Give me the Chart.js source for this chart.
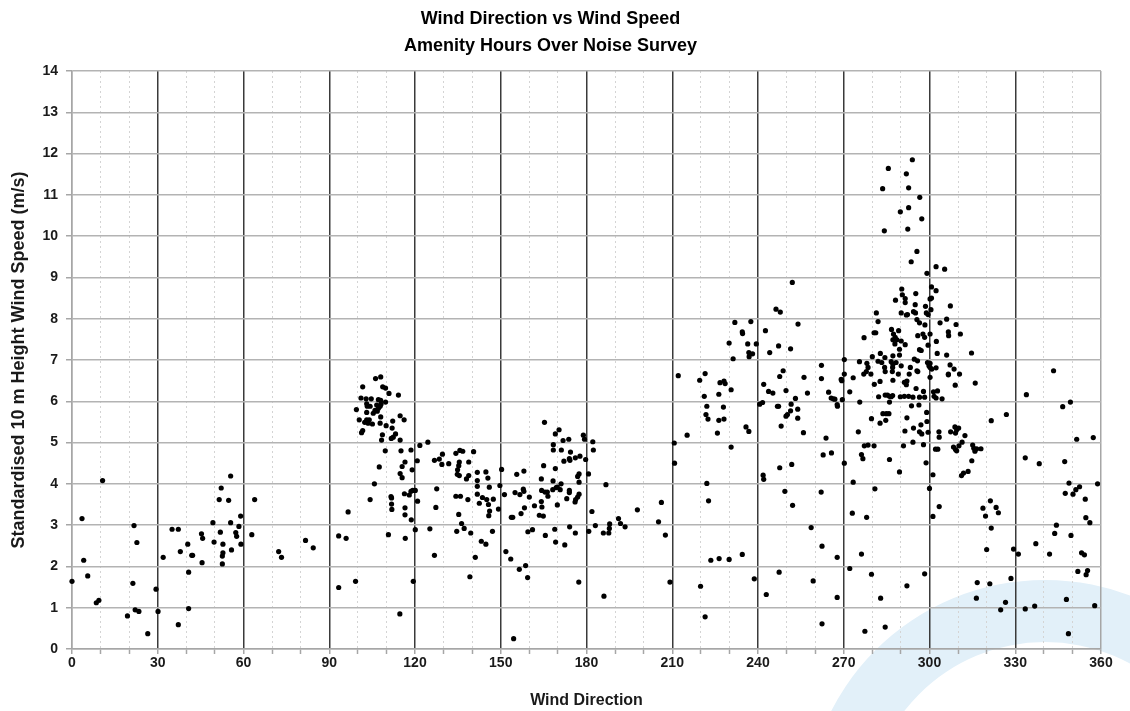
<!DOCTYPE html>
<html>
<head>
<meta charset="utf-8">
<script src="https://cdn.jsdelivr.net/npm/chart.js@4"></script>
<style>html,body{margin:0;padding:0;background:#fff;}canvas{display:block;}</style>
</head>
<body>
<canvas id="c" width="1130" height="711"></canvas>
<script>
const chartTitle = ['Wind Direction vs Wind Speed', 'Amenity Hours Over Noise Survey'];
const xAxisTitle = 'Wind Direction';
const yAxisTitle = 'Standardised 10 m Height Wind Speed (m/s)';
const xTickLabels = [0, 30, 60, 90, 120, 150, 180, 210, 240, 270, 300, 330, 360];
const yTickLabels = [0, 1, 2, 3, 4, 5, 6, 7, 8, 9, 10, 11, 12, 13, 14];

// Sector 0-90 degrees
const dirSector1 = [0,3.5,4.1,5.5,8.5,9.4,10.7,19.4,21.3,21.7,
  22.1,22.7,23.4,26.5,29.4,30.1,31.9,35.0,37.2,37.2,
  37.9,40.5,40.8,40.8,41.9,42.2,45.3,45.7,45.5,49.3,
  49.7,51.5,51.9,52.2,52.8,52.8,52.6,52.6,54.8,55.5,
  55.5,55.8,57.3,57.6,58.4,59.0,59.1,62.9,63.9,72.3,
  73.3,81.7,84.4];
const spdSector1 = [1.64,3.16,2.15,1.77,1.12,1.18,4.08,0.80,1.59,2.99,
  0.95,2.58,0.91,0.37,1.45,0.91,2.22,2.90,2.90,0.59,
  2.36,2.54,1.86,0.98,2.27,2.27,2.79,2.68,2.09,3.06,
  2.59,3.62,2.83,3.90,2.54,2.33,2.25,2.06,3.60,4.19,
  3.06,2.40,2.82,2.73,2.97,3.22,2.54,2.77,3.62,2.36,
  2.22,2.63,2.45];

// Sector 90-185 degrees
const dirSector2 = [106.2,108.0,101.7,108.7,109.7,110.9,114.2,101.1,102.9,104.7,
  107.2,108.0,109.7,99.5,103.1,103.3,104.3,106.6,107.2,107.8,
  108.1,106.0,106.8,103.1,105.4,108.0,114.8,116.2,100.5,102.4,
  103.1,104.0,103.6,105.1,107.8,109.9,112.2,101.7,101.3,112.0,
  108.6,113.2,112.4,111.7,108.3,114.8,124.5,121.7,109.6,115.1,
  118.6,116.5,120.8,126.8,128.5,107.5,115.5,119.0,114.8,115.5,
  105.8,116.3,118.6,118.0,119.2,120.1,111.6,111.8,104.3,120.9,
  111.8,116.5,111.9,116.5,118.7,96.6,125.2,120.1,93.3,95.9,
  110.7,116.6,127.6,127.3,93.3,99.2,114.7,119.4,126.8,141.1,
  139.2,151.8,153.5,154.5,156.5,158.7,159.4,177.3,129.6,129.4,
  131.8,134.3,135.7,136.7,135.5,135.3,134.9,134.8,135.5,138.8,
  140.5,138.8,138.0,134.3,135.9,138.5,135.3,136.3,137.2,134.6,
  139.5,141.8,144.8,141.8,145.5,141.8,146.0,141.8,143.6,142.5,
  145.1,145.7,147.4,146.1,145.8,149.2,147.1,143.2,144.8,150.3,
  149.7,151.3,153.7,154.2,155.6,158.1,155.0,156.7,157.9,158.1,
  157.1,158.3,160.0,159.5,161.1,161.8,163.5,164.9,164.4,164.2,
  164.3,164.2,165.3,165.0,165.5,166.3,166.5,168.4,168.4,169.1,
  170.4,171.2,169.1,168.3,168.2,169.4,169.8,170.8,171.1,169.8,
  165.6,168.9,169.2,172.4,171.8,173.8,174.4,172.1,174.0,174.2,
  176.1,177.7,173.1,174.0,174.0,176.2,176.0,176.9,177.4,176.9,
  177.4,177.4,174.1,176.1,178.9,179.3,179.7,180.7,182.2,182.4,
  181.9,183.1,180.8];
const spdSector2 = [6.55,6.59,6.35,6.35,6.32,6.19,6.15,6.08,6.06,6.06,
  6.04,6.02,5.98,5.80,5.94,5.88,5.88,5.91,5.83,5.88,
  5.93,5.78,5.76,5.73,5.71,5.62,5.65,5.55,5.55,5.49,
  5.55,5.55,5.47,5.45,5.47,5.41,5.52,5.29,5.24,5.35,
  5.19,5.21,5.13,5.10,5.06,5.06,5.01,4.93,4.80,4.80,
  4.82,4.53,4.56,4.57,4.60,4.41,4.42,4.34,4.25,4.15,
  4.00,3.76,3.82,3.73,3.84,3.84,3.69,3.66,3.62,3.58,
  3.51,3.42,3.38,3.25,3.13,3.32,2.91,2.89,2.74,2.68,
  2.77,2.68,3.88,3.43,1.49,1.64,0.85,1.64,2.27,2.22,
  1.75,2.36,2.18,0.25,1.93,2.02,1.73,1.62,4.72,4.47,
  4.49,4.74,4.81,4.79,4.53,4.44,4.34,4.23,4.20,4.53,
  4.78,4.20,4.12,3.70,3.70,3.62,3.26,3.04,2.92,2.85,
  2.81,4.28,4.29,4.08,4.14,3.94,3.92,3.75,3.67,3.53,
  3.62,3.50,3.63,3.34,3.23,3.39,2.85,2.61,2.54,4.35,
  3.96,3.74,3.19,3.19,4.23,4.31,3.79,3.74,3.87,3.82,
  3.28,3.42,3.68,2.84,2.89,3.47,3.24,3.22,3.44,3.57,
  3.84,4.12,5.49,4.44,3.80,3.80,3.70,4.95,4.82,5.21,
  5.31,4.82,4.37,4.07,3.86,3.91,3.92,3.86,4.00,3.49,
  2.75,2.90,2.59,2.52,5.05,5.08,4.77,4.55,4.61,4.57,
  4.63,4.67,3.64,3.79,3.84,3.62,3.56,3.68,3.75,4.18,
  4.24,4.04,2.96,2.81,5.18,5.08,4.59,4.24,5.02,4.82,
  3.33,2.99,2.85];

// Sector 185-270 degrees
const dirSector3 = [186.1,186.8,185.9,187.8,188.0,188.1,191.2,191.9,193.5,197.8,
  205.2,206.2,207.6,209.2,210.7,210.8,212.1,215.2,219.9,221.5,
  222.1,222.7,223.5,226.4,229.9,234.5,238.7,219.6,221.5,221.2,
  222.1,221.8,222.5,225.8,226.3,226.7,228.1,228.5,227.9,228.1,
  226.3,230.6,230.6,229.9,231.3,231.9,234.5,234.6,236.4,236.8,
  236.9,238.1,237.5,239.4,235.8,236.8,240.6,241.6,242.0,242.6,
  243.7,244.1,241.8,242.0,242.9,245.2,246.3,247.8,247.2,247.6,
  246.8,247.2,248.1,248.8,249.8,249.8,250.3,251.4,251.6,251.4,
  253.1,253.9,253.9,254.0,255.9,256.1,257.3,247.6,251.8,249.4,
  252.1,247.4,258.6,259.3,262.1,262.4,262.4,262.2,262.2,263.8,
  264.7,265.6,266.3,266.9,267.7,267.8,262.8,265.7,267.7,267.7,
  269.1,269.3,269.5,252.0];
const spdSector3 = [1.28,3.98,2.81,2.81,2.92,3.03,3.16,3.04,2.96,3.37,
  3.08,3.55,2.76,1.62,4.99,4.50,6.62,5.18,1.52,0.78,
  4.01,3.59,2.15,2.19,2.17,2.29,1.70,6.51,6.67,6.12,
  5.88,5.68,5.57,5.23,6.17,6.45,6.49,6.43,5.86,5.57,
  5.54,6.28,4.89,7.41,7.03,7.91,7.68,7.64,7.39,7.18,
  7.08,7.15,7.93,7.39,5.38,5.27,5.93,5.97,6.41,7.71,
  6.24,7.18,4.21,4.11,1.32,6.20,8.23,8.16,7.34,6.60,
  5.88,5.88,5.40,6.74,6.26,5.64,5.68,5.77,5.93,7.27,
  6.07,5.81,5.59,7.87,5.24,6.58,6.20,4.39,4.47,3.82,
  3.48,1.86,2.94,1.65,3.80,2.49,0.61,6.87,6.55,5.11,
  6.22,6.08,6.06,6.05,5.92,5.88,4.70,4.75,2.22,1.25,
  6.53,6.50,6.04,8.88];

// Sector 270-360 degrees
const dirSector4 = [294.0,285.6,291.9,283.6,292.7,296.6,289.8,292.7,297.3,284.2,
  292.4,295.6,293.6,299.1,302.3,305.3,290.3,295.2,290.5,291.5,
  288.1,291.5,300.7,302.3,300.7,300.2,295.0,298.6,300.5,307.3,
  290.1,292.3,291.9,294.4,295.1,298.9,299.5,281.4,282.0,295.6,
  296.5,298.4,303.7,306.0,309.3,280.6,281.2,277.1,286.7,289.2,
  287.4,288.0,287.2,288.6,290.1,287.9,291.5,289.5,295.9,297.7,
  298.3,300.2,302.4,306.6,306.7,310.8,297.1,296.5,299.5,302.7,
  306.0,280.0,282.8,284.4,287.2,289.5,294.7,295.8,270.2,275.5,
  278.1,278.5,282.0,283.3,284.3,286.6,287.2,287.1,288.3,290.1,
  293.3,299.3,299.8,300.2,300.2,300.8,302.3,307.2,308.6,310.5,
  295.9,270.2,277.0,277.9,279.5,284.5,287.0,289.1,292.9,295.6,
  306.6,273.3,272.1,280.7,282.7,287.2,291.2,292.1,291.9,295.3,
  297.9,300.2,301.4,302.8,306.6,309.0,282.2,284.5,285.3,286.0,
  286.6,287.1,286.0,289.8,291.2,292.7,294.2,296.5,298.3,301.6,
  302.3,304.4,275.6,293.7,296.3,299.0,279.7,283.7,284.9,285.8,
  284.7,282.7,292.1,299.1,297.0,291.4,294.4,296.5,297.3,299.5,
  303.3,303.4,275.1,307.4,308.9,309.5,309.1,310.2,312.4,277.2,
  278.5,280.6,276.2,276.7,286.0,290.9,294.2,297.9,302.1,302.9,
  308.4,309.1,309.5,310.3,311.4,311.2,311.9,313.5,270.2,298.8,
  289.5,301.2,273.3,280.9,300.0,303.4,273.0,278.0,301.2,276.2,
  272.1,279.7,298.3,292.1,282.9,277.4,284.5,314.7,316.0,321.6,
  326.9,315.1,315.5,315.9,316.5,318.0,314.8,318.7,321.3,323.3,
  324.1,319.6,321.6,320.0,329.4,331.1,316.7,321.1,328.5,316.4,
  324.9,326.6,333.5,336.8,333.9,343.4,346.6,349.3,351.5,357.3,
  333.5,338.4,347.3,348.8,347.5,350.2,351.2,352.5,354.5,358.8,
  354.7,356.1,344.4,343.8,349.5,337.2,342.0,353.2,354.2,351.9,
  355.3,354.8,347.9,357.8,348.6];
const spdSector4 = [11.85,11.64,11.51,11.15,11.17,10.94,10.59,10.69,10.42,10.13,
  10.17,9.63,9.38,9.10,9.26,9.20,8.72,8.61,8.58,8.49,
  8.45,8.39,8.77,8.68,8.50,8.48,8.34,8.30,8.22,8.31,
  8.14,8.10,8.09,8.17,8.14,8.14,8.10,8.14,7.93,7.98,
  7.90,7.85,7.90,7.99,7.86,7.66,7.66,7.54,7.74,7.71,
  7.63,7.55,7.49,7.49,7.46,7.39,7.37,7.26,7.59,7.63,
  7.55,7.63,7.45,7.68,7.59,7.63,7.23,7.25,7.36,7.16,
  7.12,7.08,7.16,7.06,7.10,7.12,7.02,6.98,7.01,6.96,
  6.92,6.82,6.97,6.94,6.82,6.96,6.90,6.82,6.94,6.86,
  6.82,6.94,6.86,6.92,6.82,6.78,6.81,6.88,6.78,6.66,
  6.72,6.66,6.66,6.72,6.66,6.72,6.72,6.66,6.66,6.74,
  6.66,6.57,6.23,6.41,6.48,6.51,6.46,6.49,6.40,6.31,
  6.24,6.58,6.23,6.25,6.64,6.39,6.11,6.15,6.15,6.12,
  6.11,6.14,5.98,6.11,6.12,6.12,6.10,6.10,6.10,6.12,
  6.08,6.06,5.98,5.89,5.91,5.73,5.58,5.70,5.70,5.70,
  5.54,5.47,5.60,5.51,5.43,5.28,5.35,5.26,5.21,5.25,
  5.26,5.13,5.26,5.26,5.38,5.31,5.23,5.35,5.17,4.92,
  4.94,4.92,4.71,4.61,4.59,4.92,5.01,4.95,4.84,4.84,
  4.89,4.83,4.80,4.92,5.01,4.20,4.26,4.30,4.50,4.51,
  4.29,4.22,4.04,3.88,3.89,3.45,3.29,3.19,3.21,2.30,
  1.95,1.81,1.82,1.53,1.23,0.43,0.53,7.17,6.44,5.53,
  5.68,4.94,4.86,4.79,4.85,4.85,4.56,3.41,3.59,3.43,
  3.30,3.22,2.93,2.41,2.42,2.30,1.61,1.58,1.71,1.23,
  0.95,1.13,0.97,1.04,6.16,6.74,5.87,5.98,5.08,5.12,
  4.63,4.49,4.54,4.02,3.77,3.75,3.86,3.93,3.63,4.00,
  3.18,3.06,3.00,2.80,2.75,2.55,2.30,2.33,2.28,1.88,
  1.90,1.80,1.20,1.05,0.37];

const windDirection = [].concat(dirSector1, dirSector2, dirSector3, dirSector4);
const windSpeed = [].concat(spdSector1, spdSector2, spdSector3, spdSector4);
const points = windDirection.map((d, i) => ({ x: d, y: windSpeed[i] }));

const FONT = "'Liberation Sans', Arial, sans-serif";

const watermark = {
  id: 'watermark',
  beforeDraw(chart) {
    const c = chart.ctx;
    const a = chart.chartArea;
    const cx = a.right - 56, cy = a.bottom + 171;
    c.save();
    c.fillStyle = '#e2f0f9';
    c.beginPath();
    c.arc(cx, cy, 240, Math.PI, 2 * Math.PI);
    c.arc(cx, cy, 178, 2 * Math.PI, Math.PI, true);
    c.closePath();
    c.fill();
    c.restore();
  }
};

new Chart(document.getElementById('c'), {
  type: 'scatter',
  data: {
    datasets: [{
      data: points,
      pointRadius: 2.6,
      pointHoverRadius: 2.6,
      pointBackgroundColor: '#000',
      pointBorderWidth: 0,
      clip: false
    }]
  },
  options: {
    responsive: false,
    animation: false,
    devicePixelRatio: 1,
    events: [],
    layout: { padding: { left: 0, right: 29, top: 6, bottom: 0 } },
    plugins: {
      legend: { display: false },
      tooltip: { enabled: false },
      title: {
        display: true,
        text: chartTitle,
        color: '#000',
        font: { family: FONT, size: 18, weight: 'bold', lineHeight: 1.5 },
        padding: { top: 0, bottom: 11 }
      }
    },
    scales: {
      x: {
        type: 'linear',
        min: 0,
        max: 360,
        afterBuildTicks: s => {
          const t = [];
          for (let v = 0; v <= 360; v += 10) t.push({ value: v });
          s.ticks = t;
        },
        ticks: {
          autoSkip: false,
          maxRotation: 0,
          padding: 1,
          color: '#1a1a1a',
          font: { family: FONT, size: 14, weight: 'bold' },
          callback: v => xTickLabels.includes(v) ? String(v) : ''
        },
        grid: {
          color: ctx => {
            const v = ctx.tick ? ctx.tick.value : 0;
            if (v === 0 || v === 360) return '#a6a6a6';
            return v % 30 === 0 ? '#3a3a3a' : '#d4d4d4';
          },
          lineWidth: ctx => {
            const v = ctx.tick ? ctx.tick.value : 0;
            return (v % 30 === 0) ? 1.5 : 1;
          },
          tickLength: 5,
          tickColor: '#a6a6a6',
          tickWidth: 1.5
        },
        border: {
          display: true,
          color: '#a6a6a6',
          width: 1.5,
          dash: ctx => (ctx.tick && ctx.tick.value % 30 !== 0) ? [2, 3] : []
        },
        title: {
          display: true,
          text: xAxisTitle,
          color: '#1a1a1a',
          font: { family: FONT, size: 16, weight: 'bold', lineHeight: 1.2 },
          padding: { top: 0, bottom: 1 }
        },
        afterFit: s => { s.height = 62; s.paddingLeft = 0; s.paddingRight = 0; }
      },
      y: {
        type: 'linear',
        min: 0,
        max: 14,
        afterBuildTicks: s => { s.ticks = yTickLabels.map(v => ({ value: v })); },
        ticks: {
          padding: 8,
          color: '#1a1a1a',
          font: { family: FONT, size: 14, weight: 'bold' },
          callback: v => String(v)
        },
        grid: {
          color: '#b3b3b3',
          lineWidth: 1.5,
          tickLength: 6,
          tickColor: '#a6a6a6'
        },
        border: { display: true, color: '#a6a6a6', width: 1.5 },
        title: {
          display: true,
          text: yAxisTitle,
          color: '#1a1a1a',
          font: { family: FONT, size: 18, weight: 'bold', lineHeight: 1.2 },
          padding: { top: 8, bottom: 0 }
        },
        afterFit: s => { s.width = 72; s.paddingTop = 0; s.paddingBottom = 0; }
      }
    }
  },
  plugins: [watermark]
});
</script>
</body>
</html>
